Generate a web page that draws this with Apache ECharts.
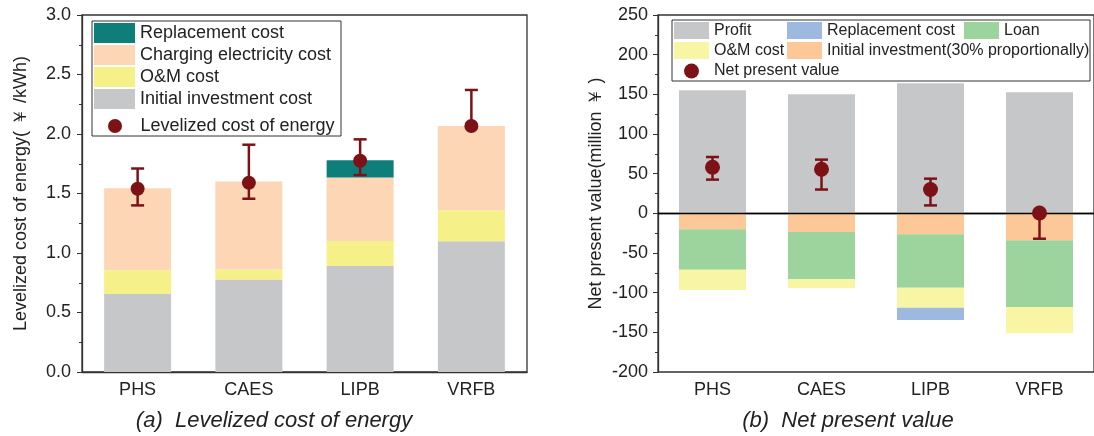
<!DOCTYPE html>
<html>
<head>
<meta charset="utf-8">
<script src="https://cdn.jsdelivr.net/npm/echarts@6/dist/echarts.min.js"></script>
<style>html,body{margin:0;padding:0;background:#fff}#c{width:1094px;height:436px}</style>
</head>
<body>
<div id="c"></div>
<script>
// ---- data ----
const categories = ['PHS', 'CAES', 'LIPB', 'VRFB'];
// (a) Levelized cost of energy (¥/kWh)
const lcoeInitial = [0.655, 0.778, 0.89, 1.098];
const lcoeOM = [0.20, 0.084, 0.21, 0.262];
const lcoeCharging = [0.69, 0.738, 0.535, 0.707];
const lcoeReplacement = [0, 0, 0.145, 0];
const lcoeValue = [1.54, 1.59, 1.775, 2.067];
const lcoeLow = [1.40, 1.456, 1.655, 2.067];
const lcoeHigh = [1.71, 1.91, 1.955, 2.37];
const lcoeTicks = [0, 0.5, 1.0, 1.5, 2.0, 2.5, 3.0];
// (b) Net present value (million ¥)
const npvProfit = [155, 150, 164, 152.5];
const npvInitial = [-20, -23.5, -26.5, -34];
const npvLoan = [-51, -59.5, -67.2, -84];
const npvOM = [-25.7, -11, -25.3, -33];
const npvReplacement = [0, 0, -15.5, 0];
const npvValue = [58, 55.5, 30, 0.5];
const npvLow = [42.5, 30, 10, -32];
const npvHigh = [71, 67.7, 43.7, 0.5];
const npvTicks = [-200, -150, -100, -50, 0, 50, 100, 150, 200, 250];

const FONT = 'Liberation Sans, Arial, Helvetica, sans-serif';
const DARK = '#7D1216';
const AX = '#333';

const chart = echarts.init(document.getElementById('c'), null, {renderer: 'canvas'});

function errData(low, high) {
  return categories.map((c, i) => [i, low[i], high[i]]);
}
function errRender(params, api) {
  const lo = api.coord([api.value(0), api.value(1)]);
  const hi = api.coord([api.value(0), api.value(2)]);
  const cap = 6.5;
  const st = {stroke: DARK, lineWidth: 2.5};
  return {
    type: 'group',
    children: [
      {type: 'line', shape: {x1: lo[0], y1: lo[1], x2: hi[0], y2: hi[1]}, style: st},
      {type: 'line', shape: {x1: lo[0] - cap, y1: lo[1], x2: lo[0] + cap, y2: lo[1]}, style: st},
      {type: 'line', shape: {x1: hi[0] - cap, y1: hi[1], x2: hi[0] + cap, y2: hi[1]}, style: st}
    ]
  };
}

const yAxisCommon = {
  type: 'value',
  axisLine: {show: true, lineStyle: {color: AX, width: 1.3}},
  axisTick: {show: true, inside: false, length: 5, lineStyle: {color: AX}},
  minorTick: {show: true, splitNumber: 2, length: 3, lineStyle: {color: AX}},
  splitLine: {show: false},
  axisLabel: {color: '#222', fontSize: 18, fontFamily: FONT, margin: 11},
  nameLocation: 'middle',
  nameTextStyle: {color: '#222', fontSize: 18, fontFamily: FONT}
};
const xAxisCommon = {
  type: 'category',
  data: categories,
  axisLine: {show: true, lineStyle: {color: AX, width: 1.3}},
  axisTick: {show: false},
  axisLabel: {color: '#222', fontSize: 18, fontFamily: FONT, margin: 9}
};

const legendText = {color: '#222', fontSize: 18, fontFamily: FONT};
const legendText2 = {color: '#222', fontSize: 16, fontFamily: FONT};

function rLegend(name, left, top, h, icon) {
  return {
    data: [{name: name, icon: icon || 'rect'}], left: left, top: top, padding: 0,
    itemWidth: 35, itemHeight: h || 17, itemGap: 0,
    textStyle: legendText2, selectedMode: false
  };
}

const option = {
  animation: false,
  backgroundColor: '#fff',
  title: [
    {text: '(a)  Levelized cost of energy', left: 269, top: 405, textAlign: 'center',
     textStyle: {fontSize: 22, fontStyle: 'italic', fontWeight: 'normal', color: '#222', fontFamily: FONT}},
    {text: '(b)  Net present value', left: 843, top: 405, textAlign: 'center',
     textStyle: {fontSize: 22, fontStyle: 'italic', fontWeight: 'normal', color: '#222', fontFamily: FONT}}
  ],
  grid: [
    {left: 82, top: 15, width: 445, height: 357, show: true, borderColor: AX, borderWidth: 1.3, backgroundColor: 'transparent'},
    {left: 658, top: 15, width: 444, height: 357, show: true, borderColor: AX, borderWidth: 1.3, backgroundColor: 'transparent'}
  ],
  xAxis: [
    Object.assign({gridIndex: 0}, xAxisCommon),
    Object.assign({gridIndex: 1}, xAxisCommon)
  ],
  yAxis: [
    Object.assign({}, yAxisCommon, {
      gridIndex: 0, min: lcoeTicks[0], max: lcoeTicks[lcoeTicks.length - 1], interval: 0.5,
      name: 'Levelized cost of energy( ￥ /kWh)', nameGap: 52,
      axisLabel: Object.assign({}, yAxisCommon.axisLabel, {formatter: v => v.toFixed(1)})
    }),
    Object.assign({}, yAxisCommon, {
      gridIndex: 1, min: npvTicks[0], max: npvTicks[npvTicks.length - 1], interval: 50,
      name: 'Net present value(million ￥ )', nameGap: 53,
      axisLabel: Object.assign({}, yAxisCommon.axisLabel, {margin: 10})
    })
  ],
  legend: [
    {data: [
       {name: 'Replacement cost', icon: 'rect'},
       {name: 'Charging electricity cost', icon: 'rect'},
       {name: 'O&M cost', icon: 'rect'},
       {name: 'Initial investment cost', icon: 'rect'}],
     orient: 'vertical', left: 94, top: 23, padding: 0, itemWidth: 41, itemHeight: 20, itemGap: 2,
     textStyle: legendText, selectedMode: false},
    {data: [{name: 'Levelized cost of energy', icon: 'circle'}], left: 108, top: 117, padding: 0,
     itemWidth: 41, itemHeight: 14, textStyle: legendText, selectedMode: false},
    rLegend('Profit', 674, 22),
    rLegend('Replacement cost ', 787, 22),
    rLegend('Loan', 964, 22),
    rLegend('O&M cost ', 674, 42),
    rLegend('Initial investment(30% proportionally)', 787, 42),
    rLegend('Net present value', 684, 63, 15, 'circle')
  ],
  graphic: [
    {type: 'rect', shape: {x: 92, y: 21, width: 249, height: 115}, style: {fill: 'none', stroke: AX, lineWidth: 1}, z: 100},
    {type: 'rect', shape: {x: 672, y: 20, width: 418, height: 61}, style: {fill: 'none', stroke: AX, lineWidth: 1}, z: 100}
  ],
  series: [
    // (a)
    {name: 'Initial investment cost', type: 'bar', stack: 'a', xAxisIndex: 0, yAxisIndex: 0, barWidth: 67,
     data: lcoeInitial, itemStyle: {color: '#C6C7C9'}},
    {name: 'O&M cost', type: 'bar', stack: 'a', xAxisIndex: 0, yAxisIndex: 0,
     data: lcoeOM, itemStyle: {color: '#F5F088'}},
    {name: 'Charging electricity cost', type: 'bar', stack: 'a', xAxisIndex: 0, yAxisIndex: 0,
     data: lcoeCharging, itemStyle: {color: '#FDD6B5'}},
    {name: 'Replacement cost', type: 'bar', stack: 'a', xAxisIndex: 0, yAxisIndex: 0,
     data: lcoeReplacement, itemStyle: {color: '#0E7E7B'}},
    {name: 'lcoeErr', type: 'custom', xAxisIndex: 0, yAxisIndex: 0, data: errData(lcoeLow, lcoeHigh),
     renderItem: errRender, z: 4, silent: true},
    {name: 'Levelized cost of energy', type: 'scatter', xAxisIndex: 0, yAxisIndex: 0, data: lcoeValue,
     symbol: 'circle', symbolSize: 14, itemStyle: {color: DARK, opacity: 1}, z: 5},
    // (b)
    {name: 'Profit', type: 'bar', stack: 'b', xAxisIndex: 1, yAxisIndex: 1, barWidth: 67,
     data: npvProfit, itemStyle: {color: '#C6C7C9'}},
    {name: 'Initial investment(30% proportionally)', type: 'bar', stack: 'b', xAxisIndex: 1, yAxisIndex: 1,
     data: npvInitial, itemStyle: {color: '#FDC898'}},
    {name: 'Loan', type: 'bar', stack: 'b', xAxisIndex: 1, yAxisIndex: 1,
     data: npvLoan, itemStyle: {color: '#9DD39C'}},
    {name: 'O&M cost ', type: 'bar', stack: 'b', xAxisIndex: 1, yAxisIndex: 1,
     data: npvOM, itemStyle: {color: '#F8F5A5'}},
    {name: 'Replacement cost ', type: 'bar', stack: 'b', xAxisIndex: 1, yAxisIndex: 1,
     data: npvReplacement, itemStyle: {color: '#9DB9E0'}},
    {name: 'npvErr', type: 'custom', xAxisIndex: 1, yAxisIndex: 1, data: errData(npvLow, npvHigh),
     renderItem: errRender, z: 4, silent: true,
     markLine: {silent: true, symbol: 'none', label: {show: false},
       lineStyle: {color: '#000', width: 1.3, type: 'solid'}, data: [{yAxis: 0}], z: 3}},
    {name: 'Net present value', type: 'scatter', xAxisIndex: 1, yAxisIndex: 1, data: npvValue,
     symbol: 'circle', symbolSize: 15, itemStyle: {color: DARK, opacity: 1}, z: 5}
  ]
};
chart.setOption(option);
</script>
</body>
</html>
